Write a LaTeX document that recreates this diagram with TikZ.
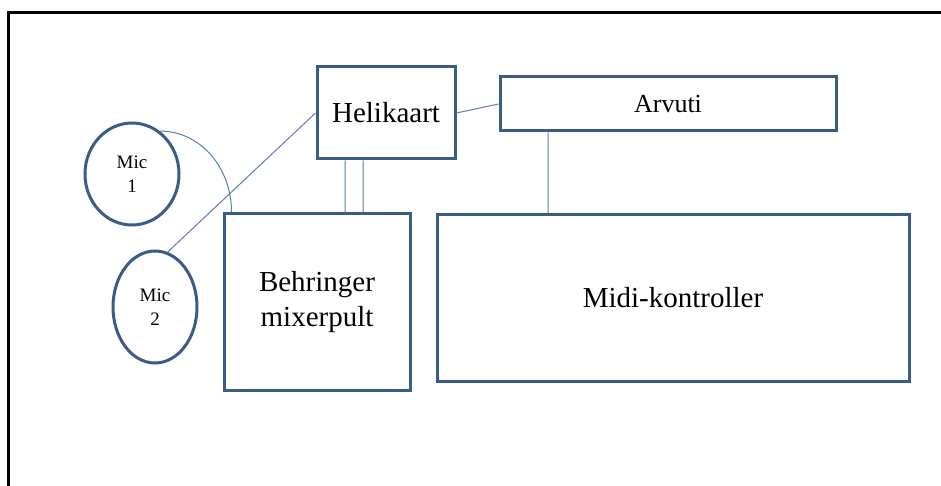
\documentclass[tikz,border=0pt]{standalone}
\usepackage{fontspec}
\setmainfont{Liberation Serif}
\usetikzlibrary{shapes.geometric,calc}
\definecolor{boxblue}{HTML}{3A5C88}
\definecolor{wireblue}{HTML}{5A7EAE}

\begin{document}
\begin{tikzpicture}[x=1pt,y=-1pt,
    box/.style={draw=boxblue,line width=3pt,minimum width=#1},
    mic/.style={ellipse,draw=boxblue,line width=3pt,inner sep=0pt,align=center,
                font=\fontsize{19}{24}\selectfont},
    wire/.style={draw=wireblue,line width=1pt}]
  \useasboundingbox (0,0) rectangle (941,486);
  \draw[line width=3pt] (8,13) rectangle (960,500);
  \node(heli)[box=138,minimum height=92,font=\fontsize{29}{35}\selectfont] at (386,113) {Helikaart};
  \node(arvuti)[box=336,minimum height=54,font=\fontsize{26}{32}\selectfont] at (668,104) {Arvuti};
  \node(midi)[box=472,minimum height=167,font=\fontsize{29}{35}\selectfont] at (673,298) {Midi-kontroller};
  \node(mixer)[box=186,minimum height=177,align=center,font=\fontsize{29}{35}\selectfont] at (317,302) {Behringer\\mixerpult};
  \node(mic1)[mic,minimum width=94,minimum height=102] at (132,174) {Mic\\1};
  \node(mic2)[mic,minimum width=84,minimum height=112] at (155,307) {Mic\\2};
  \path[wire]
    (mic2.77) -- (heli.west)
    (heli.east) -- (arvuti.west)
    ($(heli.south)+(-41,0)$) -- ($(heli.south |- mixer.north)+(-41,0)$)
    ($(heli.south)+(-23,0)$) -- ($(heli.south |- mixer.north)+(-23,0)$)
    ($(arvuti.south)+(-120,0)$) -- ($(arvuti.south |- midi.north)+(-120,0)$)
    (mic1.57) .. controls +(40,0) and +(0,-45) .. ($(mixer.north west)+(9,0)$);
\end{tikzpicture}
\end{document}
